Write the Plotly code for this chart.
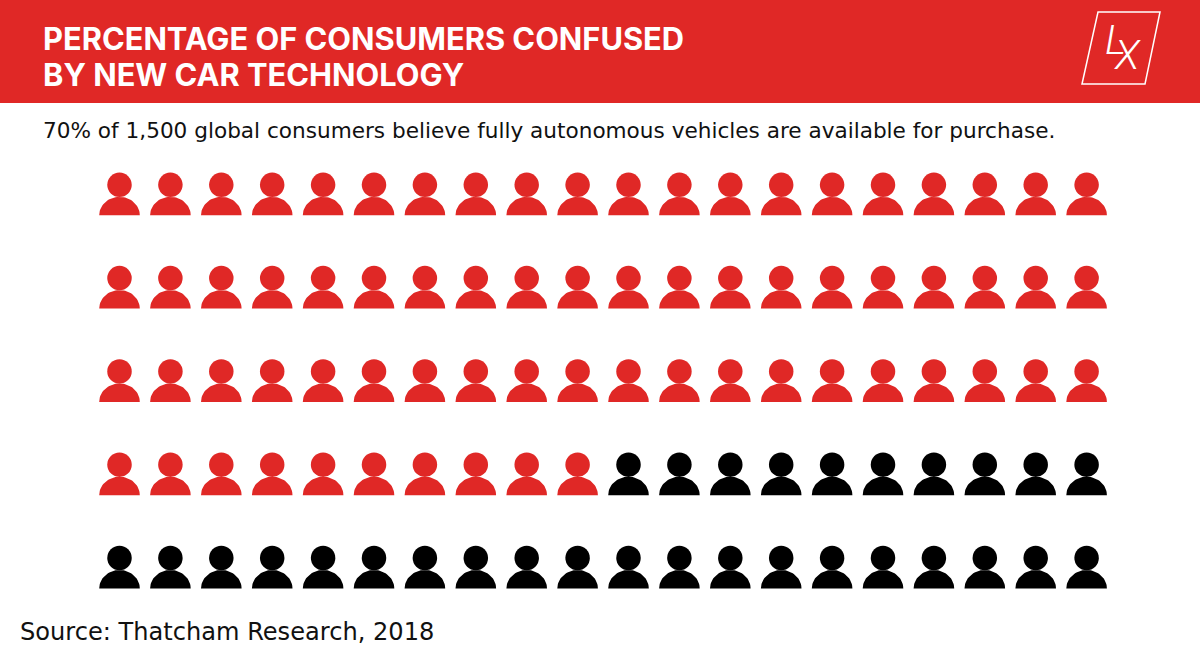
import numpy as np
import plotly.graph_objects as go

W, H = 1200, 662
TITLE_LINES = ["PERCENTAGE OF CONSUMERS CONFUSED", "BY NEW CAR TECHNOLOGY"]
SUBTITLE = "70% of 1,500 global consumers believe fully autonomous vehicles are available for purchase."
SOURCE = "Source: Thatcham Research, 2018"
CONFUSED_PERCENT = 70
TOTAL_ICONS = 100
ICONS_PER_ROW = 20
RED = "#E02826"
BLACK = "#000000"

idx = np.arange(TOTAL_ICONS)
col = idx % ICONS_PER_ROW
row = idx // ICONS_PER_ROW
X0, DX, Y0, DY = 119.5, 50.9, 184.8, 93.3
cx = X0 + col * DX
cy = Y0 + row * DY
confused = idx < CONFUSED_PERCENT

t = np.linspace(np.pi, 0, 40)
def bodies(xs, ys):
    px, py = [], []
    for x, y in zip(xs, ys):
        px += list(x + 20.3 * np.cos(t)) + [None]
        py += list(y + 30.5 - 18.5 * np.sin(t)) + [None]
    return px, py

fig = go.Figure()
for mask, color, name in [(confused, RED, "Confused"), (~confused, BLACK, "Not confused")]:
    bx, by = bodies(cx[mask], cy[mask])
    fig.add_trace(go.Scatter(x=bx, y=by, mode="lines", fill="toself", fillcolor=color,
                             line=dict(width=0, color=color), hoverinfo="skip", name=name))
    fig.add_trace(go.Scatter(x=cx[mask], y=cy[mask], mode="markers",
                             marker=dict(size=24.5, color=color, line=dict(width=0)),
                             hoverinfo="skip", name=name))

shapes = [
    dict(type="rect", xref="x", yref="y", x0=0, x1=W, y0=0, y1=103, fillcolor=RED, line_width=0, layer="below"),
    dict(type="path", xref="x", yref="y", path="M1098,12 L1160,12 L1145,84 L1082,84 Z",
         line=dict(color="white", width=1.5), fillcolor="rgba(0,0,0,0)"),
]
def txt(x, y, s, size, color, family, weight=400):
    return dict(xref="x", yref="y", x=x, y=y, text=s, showarrow=False, xanchor="left", yanchor="middle",
                font=dict(family=family, size=size, color=color, weight=weight), align="left")

annotations = [
    txt(41, 38.5, TITLE_LINES[0], 30.8, "white", "Inter", 700),
    txt(41, 74, TITLE_LINES[1], 30.8, "white", "Inter", 700),
    txt(41, 130, SUBTITLE, 21.6, "#111111", "DejaVu Sans"),
    txt(18, 632, SOURCE, 24.1, "#111111", "DejaVu Sans"),
    txt(1103, 40, "<i>L</i>", 41, "white", "Roboto", 300),
    txt(1112, 55, "<i>X</i>", 41, "white", "Roboto", 300),
]

fig.update_layout(
    width=W, height=H, margin=dict(l=0, r=0, t=0, b=0), showlegend=False,
    paper_bgcolor="white", plot_bgcolor="white", shapes=shapes, annotations=annotations,
    xaxis=dict(range=[0, W], visible=False, fixedrange=True),
    yaxis=dict(range=[H, 0], visible=False, fixedrange=True),
)
fig.write_html("out.html", config={"displayModeBar": False},
               post_script="document.body.style.margin='0';")
